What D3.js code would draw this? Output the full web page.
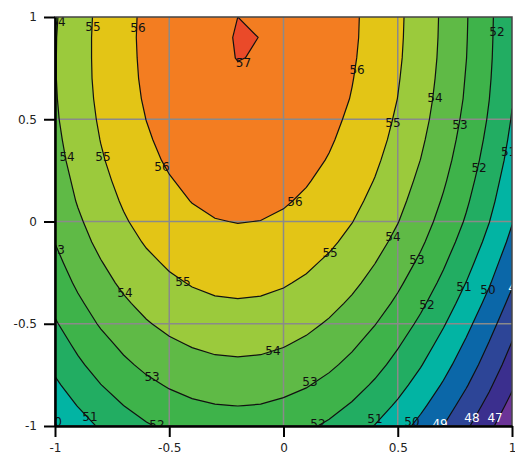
<!DOCTYPE html>
<html>
<head>
<meta charset="utf-8">
<script src="https://cdn.jsdelivr.net/npm/d3@7"></script>
<style>
  body { margin: 0; background: #fff; }
  text { font-family: "DejaVu Sans", Verdana, sans-serif; }
</style>
</head>
<body>
<div id="vis"></div>
<script>

// grid nodes (x across, y from top row down)
var xNodes = [-1, -0.9, -0.8, -0.7, -0.6, -0.5, -0.4, -0.3, -0.2, -0.1, 0, 0.1, 0.2, 0.3, 0.4, 0.5, 0.6, 0.7, 0.8, 0.9, 1];
var yNodes = [1, 0.9, 0.8, 0.7, 0.6, 0.5, 0.4, 0.3, 0.2, 0.1, 0, -0.1, -0.2, -0.3, -0.4, -0.5, -0.6, -0.7, -0.8, -0.9, -1];

// values, one row per yNode
var zRows = [
  [53.91, 54.61, 55.22, 55.74, 56.18, 56.53, 56.79, 56.96, 57.00, 56.99, 56.94, 56.77, 56.50, 56.14, 55.70, 55.17, 54.55, 53.85, 53.06, 52.18, 51.21],
  [53.95, 54.64, 55.24, 55.76, 56.19, 56.53, 56.78, 56.86, 57.04, 56.995, 56.93, 56.75, 56.48, 56.13, 55.68, 55.15, 54.54, 53.83, 53.04, 52.16, 51.19],
  [53.96, 54.64, 55.24, 55.75, 56.17, 56.51, 56.76, 56.92, 57.01, 56.98, 56.90, 56.72, 56.45, 56.09, 55.65, 55.12, 54.50, 53.80, 53.01, 52.13, 51.17],
  [53.96, 54.64, 55.22, 55.73, 56.14, 56.47, 56.72, 56.88, 56.95, 56.94, 56.85, 56.66, 56.39, 56.03, 55.59, 55.06, 54.45, 53.74, 52.95, 52.08, 51.12],
  [53.93, 54.60, 55.18, 55.68, 56.09, 56.41, 56.66, 56.81, 56.89, 56.87, 56.77, 56.59, 56.32, 55.96, 55.52, 54.99, 54.37, 53.67, 52.89, 52.01, 51.05],
  [53.88, 54.54, 55.11, 55.60, 56.01, 56.33, 56.56, 56.72, 56.79, 56.77, 56.67, 56.48, 56.21, 55.85, 55.41, 54.88, 54.27, 53.57, 52.78, 51.91, 50.95],
  [53.79, 54.45, 55.02, 55.50, 55.91, 56.23, 56.46, 56.61, 56.68, 56.66, 56.56, 56.37, 56.09, 55.73, 55.29, 54.76, 54.14, 53.44, 52.65, 51.78, 50.82],
  [53.69, 54.34, 54.91, 55.39, 55.79, 56.11, 56.34, 56.48, 56.55, 56.53, 56.42, 56.23, 55.95, 55.59, 55.14, 54.61, 53.99, 53.29, 52.50, 51.63, 50.67],
  [53.55, 54.20, 54.77, 55.25, 55.64, 55.95, 56.18, 56.33, 56.39, 56.36, 56.25, 56.06, 55.78, 55.42, 54.97, 54.43, 53.81, 53.11, 52.32, 51.44, 50.48],
  [53.41, 54.06, 54.62, 55.09, 55.49, 55.80, 56.02, 56.16, 56.22, 56.19, 56.08, 55.88, 55.60, 55.23, 54.78, 54.24, 53.62, 52.91, 52.12, 51.25, 50.28],
  [53.23, 53.87, 54.43, 54.91, 55.30, 55.60, 55.83, 55.97, 56.02, 55.99, 55.87, 55.67, 55.39, 55.02, 54.57, 54.03, 53.40, 52.69, 51.90, 51.02, 50.05],
  [53.02, 53.66, 54.22, 54.69, 55.08, 55.38, 55.60, 55.74, 55.79, 55.76, 55.64, 55.44, 55.15, 54.77, 54.31, 53.77, 53.14, 52.42, 51.62, 50.74, 49.76],
  [52.77, 53.41, 53.96, 54.43, 54.82, 55.12, 55.34, 55.47, 55.52, 55.48, 55.36, 55.16, 54.86, 54.49, 54.02, 53.47, 52.84, 52.11, 51.31, 50.41, 49.43],
  [52.51, 53.15, 53.70, 54.17, 54.55, 54.85, 55.06, 55.19, 55.24, 55.20, 55.08, 54.87, 54.57, 54.19, 53.72, 53.16, 52.52, 51.80, 50.98, 50.08, 49.10],
  [52.22, 52.85, 53.40, 53.87, 54.25, 54.54, 54.76, 54.89, 54.93, 54.89, 54.76, 54.55, 54.25, 53.86, 53.39, 52.83, 52.18, 51.45, 50.63, 49.72, 48.73],
  [51.91, 52.54, 53.09, 53.55, 53.93, 54.22, 54.43, 54.56, 54.60, 54.56, 54.43, 54.21, 53.90, 53.51, 53.03, 52.47, 51.82, 51.08, 50.25, 49.34, 48.34],
  [51.57, 52.19, 52.73, 53.19, 53.56, 53.86, 54.06, 54.19, 54.23, 54.19, 54.06, 53.84, 53.53, 53.14, 52.66, 52.09, 51.44, 50.70, 49.87, 48.95, 47.95],
  [51.22, 51.84, 52.38, 52.83, 53.20, 53.49, 53.70, 53.82, 53.86, 53.82, 53.69, 53.47, 53.16, 52.77, 52.29, 51.72, 51.06, 50.32, 49.49, 48.57, 47.57],
  [50.84, 51.45, 51.98, 52.43, 52.80, 53.08, 53.29, 53.41, 53.45, 53.41, 53.27, 53.06, 52.75, 52.36, 51.87, 51.30, 50.65, 49.90, 49.07, 48.15, 47.14],
  [50.42, 51.03, 51.56, 52.00, 52.36, 52.65, 52.85, 52.97, 53.01, 52.97, 52.83, 52.62, 52.31, 51.91, 51.43, 50.86, 50.20, 49.45, 48.62, 47.70, 46.69],
  [50.01, 50.59, 51.11, 51.55, 51.91, 52.19, 52.39, 52.51, 52.55, 52.51, 52.37, 52.15, 51.85, 51.45, 50.97, 50.39, 49.73, 48.99, 48.15, 47.23, 46.21]
];

var levels = [47, 48, 49, 50, 51, 52, 53, 54, 55, 56, 57];
var bandColors = ['#3b2f8e', '#2d4597', '#0b67a8', '#02b4a3', '#22ad62', '#3eb34a', '#5fba46', '#9bca3c', '#e3c516', '#f37d21', '#ea4a29'];
var lowColor = '#6b3497';

var tickValues = [-1, -0.5, 0, 0.5, 1];
var gridValues = [-0.5, 0, 0.5];

// [level, x, y]
var contourLabels = [
  [54, -0.987, 0.976], [55, -0.834, 0.951], [56, -0.637, 0.946], [57, -0.175, 0.775],
  [56, 0.322, 0.741], [54, 0.663, 0.604], [52, 0.934, 0.927], [55, 0.479, 0.482],
  [53, 0.772, 0.472], [51, 0.985, 0.34], [52, 0.856, 0.262], [54, -0.947, 0.315],
  [55, -0.79, 0.315], [56, -0.532, 0.267], [56, 0.05, 0.095], [53, -0.99, -0.139],
  [54, 0.479, -0.076], [55, 0.204, -0.154], [53, 0.584, -0.188], [51, 0.79, -0.32],
  [50, 0.895, -0.335], [49, 1.017, -0.325], [52, 0.628, -0.408], [55, -0.44, -0.296],
  [54, -0.694, -0.35], [54, -0.046, -0.633], [53, -0.575, -0.76], [53, 0.116, -0.785],
  [51, -0.847, -0.956], [50, -1.003, -0.98], [52, -0.554, -0.995], [52, 0.151, -0.99],
  [51, 0.4, -0.966], [50, 0.562, -0.98], [49, 0.685, -0.99], [48, 0.825, -0.961],
  [47, 0.926, -0.961]
];

var width = 515;
var height = 455;

var x = d3.scaleLinear().domain([-1, 1]).range([55, 512]);
var y = d3.scaleLinear().domain([-1, 1]).range([426, 17]);

// contour grid coords -> pixels (d3.contours puts node i at i + 0.5)
var gx = d3.scaleLinear().domain([0.5, xNodes.length - 0.5]).range([x(xNodes[0]), x(xNodes[xNodes.length - 1])]);
var gy = d3.scaleLinear().domain([0.5, yNodes.length - 0.5]).range([y(yNodes[0]), y(yNodes[yNodes.length - 1])]);

var path = d3.geoPath(d3.geoTransform({
  point: function(px, py) { this.stream.point(gx(px), gy(py)); }
}));

var values = [].concat.apply([], zRows);
var bands = d3.contours()
  .size([xNodes.length, yNodes.length])
  .thresholds(levels)(values);

var svg = d3.select('#vis').append('svg')
  .attr('width', width)
  .attr('height', height);

svg.append('defs').append('clipPath')
  .attr('id', 'plotClip')
  .append('rect')
  .attr('x', x(-1))
  .attr('y', y(1))
  .attr('width', x(1) - x(-1))
  .attr('height', y(-1) - y(1));

var plot = svg.append('g').attr('clip-path', 'url(#plotClip)');

plot.append('rect')
  .attr('x', x(-1))
  .attr('y', y(1))
  .attr('width', x(1) - x(-1))
  .attr('height', y(-1) - y(1))
  .attr('fill', lowColor);

plot.selectAll('.band')
  .data(bands)
  .enter().append('path')
  .attr('class', 'band')
  .attr('d', path)
  .attr('fill', function(d, i) { return bandColors[i]; });

// grid
plot.selectAll('.gx')
  .data(gridValues)
  .enter().append('line')
  .attr('x1', function(d) { return x(d); })
  .attr('x2', function(d) { return x(d); })
  .attr('y1', y(1))
  .attr('y2', y(-1))
  .attr('stroke', '#8a8a8a')
  .attr('stroke-width', 1.5);

plot.selectAll('.gy')
  .data(gridValues)
  .enter().append('line')
  .attr('y1', function(d) { return y(d); })
  .attr('y2', function(d) { return y(d); })
  .attr('x1', x(-1))
  .attr('x2', x(1))
  .attr('stroke', '#8a8a8a')
  .attr('stroke-width', 1.5);

plot.selectAll('.line')
  .data(bands)
  .enter().append('path')
  .attr('class', 'line')
  .attr('d', path)
  .attr('fill', 'none')
  .attr('stroke', '#111')
  .attr('stroke-width', 1.2);

plot.selectAll('.clabel')
  .data(contourLabels)
  .enter().append('text')
  .attr('class', 'clabel')
  .attr('x', function(d) { return x(d[1]); })
  .attr('y', function(d) { return y(d[2]); })
  .attr('dy', '0.35em')
  .attr('text-anchor', 'middle')
  .attr('font-size', 12)
  .attr('fill', function(d) { return d[0] < 50 ? '#fff' : '#111'; })
  .text(function(d) { return d[0]; });

// frame
svg.append('rect')
  .attr('x', x(-1))
  .attr('y', y(1))
  .attr('width', x(1) - x(-1))
  .attr('height', y(-1) - y(1))
  .attr('fill', 'none')
  .attr('stroke', '#444')
  .attr('stroke-width', 1.5);

var fmt = function(d) { return String(d); };

var xAxis = svg.append('g')
  .attr('transform', 'translate(0,' + y(-1) + ')')
  .call(d3.axisBottom(x).tickValues(tickValues).tickSize(11).tickSizeOuter(0).tickPadding(6).tickFormat(fmt));

var yAxis = svg.append('g')
  .attr('transform', 'translate(' + x(-1) + ',0)')
  .call(d3.axisLeft(y).tickValues(tickValues).tickSize(11).tickSizeOuter(0).tickPadding(7).tickFormat(fmt));

[xAxis, yAxis].forEach(function(ax) {
  ax.select('.domain').attr('stroke', '#000').attr('stroke-width', 2.5);
  ax.selectAll('.tick line').attr('stroke', '#000').attr('stroke-width', 2);
  ax.selectAll('.tick text')
    .attr('font-size', 12)
    .attr('fill', '#222')
    .style('font-family', '"DejaVu Sans", Verdana, sans-serif');
});

</script>
</body>
</html>
